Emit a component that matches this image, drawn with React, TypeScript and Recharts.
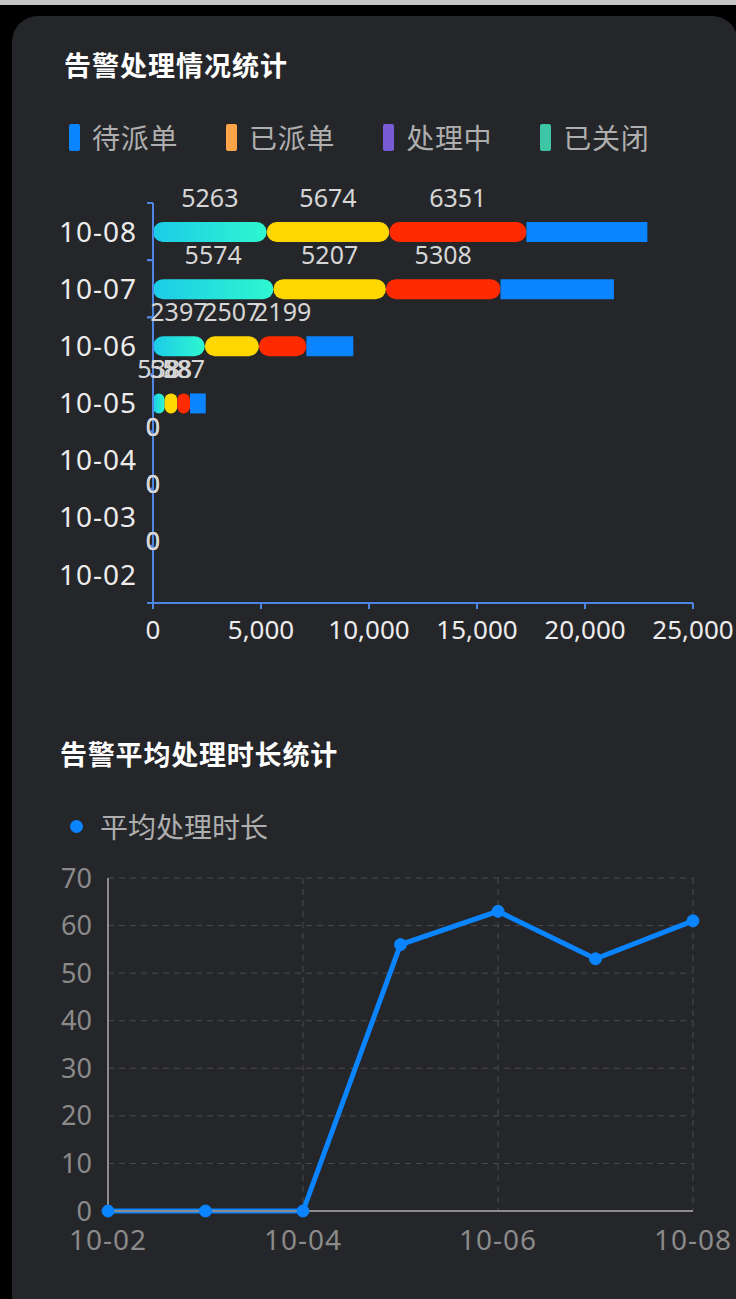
import React from 'react';
import { BarChart, Bar, XAxis, YAxis, LabelList, LineChart, Line, CartesianGrid } from 'recharts';

// ---------- data ----------
const dates = ['10-02', '10-03', '10-04', '10-05', '10-06', '10-07', '10-08'];
const pendingDispatch = [0, 0, 0, 538, 2397, 5574, 5263]; // 待派单
const dispatched = [0, 0, 0, 588, 2507, 5207, 5674]; // 已派单
const processing = [0, 0, 0, 587, 2199, 5308, 6351]; // 处理中
const closed = [0, 0, 0, 730, 2170, 5250, 5600]; // 已关闭
const seriesNames = ['待派单', '已派单', '处理中', '已关闭'];
const legendColors = ['#0a84ff', '#ffa548', '#7a5bd6', '#3cc6a6'];
const barFills = ['url(#barCyan)', '#ffd700', '#ff2a00', '#0a84ff'];
const barXTicks = [0, 5000, 10000, 15000, 20000, 25000];

const avgDuration = [0, 0, 0, 56, 63, 53, 61];
const lineName = '平均处理时长';
const lineYTicks = [0, 10, 20, 30, 40, 50, 60, 70];

const barTitle = '告警处理情况统计';
const lineTitle = '告警平均处理时长统计';

const barData = dates.map((d, i) => ({
  date: d,
  s1: pendingDispatch[i],
  s2: dispatched[i],
  s3: processing[i],
  s4: closed[i],
}));
const lineData = dates.map((d, i) => ({ date: d, v: avgDuration[i] }));
const barKeys = ['s1', 's2', 's3', 's4'];

// ---------- styles ----------
const FONT = "'Noto Sans', 'Noto Sans CJK SC', sans-serif";
const CJK = "'Noto Sans CJK SC', 'Noto Sans', sans-serif";
const AXIS_BLUE = '#4e86e4';
const CARD_BG = '#252629';

const BarDateTick = (props: any) => {
  const { x, y, payload, height, visibleTicksCount } = props;
  const band = height && visibleTicksCount ? height / visibleTicksCount : 0;
  const ax = x + 10;
  return (
    <g>
      {band > 0 && (
        <line x1={ax} x2={ax + 6} y1={y - band / 2} y2={y - band / 2} stroke={AXIS_BLUE} strokeWidth={2} />
      )}
      {band > 0 && (
        <line x1={ax} x2={ax + 6} y1={y + band / 2} y2={y + band / 2} stroke={AXIS_BLUE} strokeWidth={2} />
      )}
      <text x={x} y={y} dy="0.36em" textAnchor="end" fill="#ececec" fontSize={28} fontFamily={FONT} letterSpacing={1}>
        {payload.value}
      </text>
    </g>
  );
};

export default function App() {
  return (
    <div
      style={{
        position: 'absolute',
        left: 0,
        top: 0,
        width: 736,
        height: 1299,
        background: '#000',
        overflow: 'hidden',
      }}
    >
      <div style={{ position: 'absolute', left: 0, top: 0, width: 736, height: 5, background: '#c4c4c4' }} />
      <div
        style={{
          position: 'absolute',
          left: 12,
          top: 16,
          width: 726,
          height: 1400,
          background: CARD_BG,
          borderRadius: 26,
        }}
      />

      {/* bar chart title */}
      <div
        style={{
          position: 'absolute',
          left: 64,
          top: 51,
          fontFamily: CJK,
          fontWeight: 700,
          fontSize: 27,
          lineHeight: '27px',
          letterSpacing: 1,
          color: '#ffffff',
          whiteSpace: 'nowrap',
        }}
      >
        {barTitle}
      </div>

      {/* bar legend */}
      <div style={{ position: 'absolute', left: 69, top: 123, display: 'flex', alignItems: 'center', gap: 48 }}>
        {seriesNames.map((n, i) => (
          <div key={n} style={{ display: 'flex', alignItems: 'center' }}>
            <div style={{ width: 11, height: 27, borderRadius: 2, background: legendColors[i] }} />
            <div
              style={{
                marginLeft: 12,
                fontFamily: CJK,
                fontSize: 28,
                lineHeight: '28px',
                color: '#aeaeae',
                letterSpacing: 0.7,
                whiteSpace: 'nowrap',
              }}
            >
              {n}
            </div>
          </div>
        ))}
      </div>

      <div style={{ position: 'absolute', left: 0, top: 0 }}>
        <BarChart
          width={736}
          height={700}
          data={barData}
          layout="vertical"
          margin={{ top: 203, right: 43, bottom: 57, left: 0 }}
          barSize={20}
        >
          <defs>
            <linearGradient id="barCyan" x1="0" y1="0" x2="1" y2="0">
              <stop offset="0%" stopColor="#1ccbe8" />
              <stop offset="100%" stopColor="#2ef7cf" />
            </linearGradient>
          </defs>
          <XAxis
            type="number"
            domain={[0, 25000]}
            ticks={barXTicks}
            interval={0}
            height={40}
            axisLine={{ stroke: AXIS_BLUE, strokeWidth: 2 }}
            tickLine={{ stroke: AXIS_BLUE, strokeWidth: 2 }}
            tickSize={6}
            tickMargin={12}
            tick={{ fill: '#ececec', fontSize: 26, fontFamily: FONT }}
            tickFormatter={(v: number) => v.toLocaleString('en-US')}
          />
          <YAxis
            type="category"
            dataKey="date"
            reversed
            width={153}
            interval={0}
            axisLine={{ stroke: AXIS_BLUE, strokeWidth: 2 }}
            tickLine={false}
            tickSize={6}
            tickMargin={10}
            tick={<BarDateTick />}
          />
          {barKeys.map((k, i) => (
            <Bar
              key={k}
              dataKey={k}
              name={seriesNames[i]}
              stackId="a"
              fill={barFills[i]}
              radius={i < 3 ? 10 : 0}
              minPointSize={i < 3 ? 0.01 : 0}
              isAnimationActive={false}
            >
              {i < 3 && (
                <LabelList
                  dataKey={k}
                  position="top"
                  offset={15}
                  fill="#d6d6d6"
                  fontSize={25}
                  fontFamily={FONT}
                />
              )}
            </Bar>
          ))}
        </BarChart>
      </div>

      {/* line chart title */}
      <div
        style={{
          position: 'absolute',
          left: 60,
          top: 740,
          fontFamily: CJK,
          fontWeight: 700,
          fontSize: 27,
          lineHeight: '27px',
          letterSpacing: 0.8,
          color: '#ffffff',
          whiteSpace: 'nowrap',
        }}
      >
        {lineTitle}
      </div>

      {/* line legend */}
      <div style={{ position: 'absolute', left: 70, top: 812, display: 'flex', alignItems: 'center' }}>
        <div style={{ width: 13, height: 13, borderRadius: 7, background: '#0a84ff' }} />
        <div
          style={{
            marginLeft: 17,
            fontFamily: CJK,
            fontSize: 28,
            lineHeight: '28px',
            color: '#aeaeae',
            whiteSpace: 'nowrap',
          }}
        >
          {lineName}
        </div>
      </div>

      <div style={{ position: 'absolute', left: 0, top: 700 }}>
        <LineChart width={736} height={599} data={lineData} margin={{ top: 178, right: 43, bottom: 38, left: 0 }}>
          <CartesianGrid stroke="#4a4a4a" strokeDasharray="6 5" />
          <XAxis
            dataKey="date"
            interval={1}
            height={50}
            axisLine={{ stroke: '#8c8c8c', strokeWidth: 2 }}
            tickLine={false}
            tickSize={0}
            tickMargin={19}
            tick={{ fill: '#8a8a8a', fontSize: 28, fontFamily: FONT, letterSpacing: 1 }}
          />
          <YAxis
            type="number"
            domain={[0, 70]}
            ticks={lineYTicks}
            interval={0}
            width={108}
            axisLine={{ stroke: '#8c8c8c', strokeWidth: 2 }}
            tickLine={false}
            tickSize={0}
            tickMargin={16}
            tick={{ fill: '#8a8a8a', fontSize: 27, fontFamily: FONT }}
          />
          <Line
            type="linear"
            dataKey="v"
            name={lineName}
            stroke="#0a84ff"
            strokeWidth={5}
            dot={{ r: 6, fill: '#0a84ff', stroke: '#0a84ff', strokeWidth: 1 }}
            isAnimationActive={false}
          />
        </LineChart>
      </div>
    </div>
  );
}
